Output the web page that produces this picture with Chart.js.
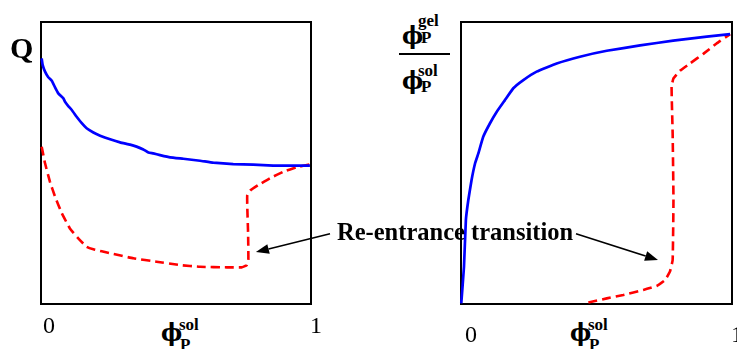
<!DOCTYPE html>
<html>
<head>
<meta charset="utf-8">
<script src="https://cdn.jsdelivr.net/npm/chart.js@4/dist/chart.umd.min.js"></script>
<style>
  html, body { margin: 0; padding: 0; background: #fff; overflow: hidden; }
  #stage { position: relative; width: 737px; height: 349px; font-family: "Liberation Serif", "Times New Roman", serif; color: #000; }
  #stage canvas { position: absolute; }
  .t { position: absolute; line-height: 1; white-space: nowrap; font-family: "Liberation Serif", "Times New Roman", serif; }
  .phi { font-size: 25px; font-weight: bold; font-family: "DejaVu Serif", "Liberation Serif", serif; transform: scaleX(0.9); transform-origin: left top; }
  .sm { font-size: 17px; font-weight: bold; }
  .tick { font-size: 24px; width: 20px; text-align: center; }
  #overlay { position: absolute; left: 0; top: 0; pointer-events: none; }
</style>
</head>
<body>
<div id="stage">
  <canvas id="qChart" width="290" height="302" style="left:31px;top:12px"></canvas>
  <canvas id="ratioChart" width="286" height="302" style="left:451px;top:12px"></canvas>

  <!-- left panel: Q versus phi_P^sol -->
  <div class="t" style="left:10px;top:33px;font-size:30px;font-weight:bold">Q</div>
  <div class="t phi" style="left:161px;top:320px">ϕ</div>
  <div class="t sm" style="left:179px;top:316px">sol</div>
  <div class="t sm" style="left:180px;top:336px">P</div>

  <!-- right panel: phi_P^gel / phi_P^sol versus phi_P^sol -->
  <div class="t phi" style="left:402px;top:23px">ϕ</div>
  <div class="t sm" style="left:418px;top:12px">gel</div>
  <div class="t sm" style="left:421px;top:29px">P</div>
  <div style="position:absolute;left:399px;top:53px;width:51px;height:2px;background:#000"></div>
  <div class="t phi" style="left:402px;top:68px">ϕ</div>
  <div class="t sm" style="left:418px;top:62px">sol</div>
  <div class="t sm" style="left:421px;top:78px">P</div>
  <div class="t phi" style="left:570px;top:320px">ϕ</div>
  <div class="t sm" style="left:588px;top:316px">sol</div>
  <div class="t sm" style="left:589px;top:336px">P</div>

  <div id="note" class="t" style="left:337px;top:220px;font-size:24.5px;font-weight:bold">Re-entrance transition</div>

  <svg id="overlay" width="737" height="349"></svg>
</div>

<script>
// Q against phi_P^sol: solid (blue) and dashed (red) branches
const qBlueX = [0.0025, 0.006, 0.015, 0.027, 0.040, 0.052, 0.064, 0.083, 0.089, 0.101, 0.114, 0.132, 0.151, 0.169, 0.194, 0.219, 0.256, 0.293, 0.330, 0.354, 0.379, 0.398, 0.416, 0.441, 0.478, 0.527, 0.589, 0.638, 0.712, 0.786, 0.860, 0.996];
const qBlueY = [0.871, 0.848, 0.824, 0.804, 0.792, 0.768, 0.747, 0.729, 0.717, 0.702, 0.688, 0.664, 0.641, 0.623, 0.608, 0.597, 0.584, 0.573, 0.565, 0.558, 0.548, 0.537, 0.534, 0.528, 0.520, 0.515, 0.508, 0.501, 0.496, 0.494, 0.491, 0.491];
const qRedX = [0.0025, 0.015, 0.033, 0.052, 0.077, 0.107, 0.138, 0.169, 0.194, 0.256, 0.342, 0.428, 0.515, 0.589, 0.688, 0.743, 0.762, 0.768, 0.767, 0.764, 0.764, 0.777, 0.805, 0.848, 0.898, 0.947, 0.996];
const qRedY = [0.558, 0.499, 0.434, 0.381, 0.322, 0.268, 0.233, 0.203, 0.194, 0.180, 0.162, 0.150, 0.138, 0.132, 0.130, 0.130, 0.138, 0.156, 0.251, 0.345, 0.387, 0.404, 0.422, 0.446, 0.469, 0.485, 0.495];

// phi_P^gel / phi_P^sol against phi_P^sol
const ratioBlueX = [0.001, 0.011, 0.018, 0.027, 0.039, 0.052, 0.064, 0.082, 0.107, 0.132, 0.162, 0.193, 0.230, 0.279, 0.353, 0.439, 0.538, 0.661, 0.783, 0.907, 0.993];
const ratioBlueY = [0.002, 0.132, 0.298, 0.369, 0.440, 0.499, 0.534, 0.593, 0.641, 0.682, 0.723, 0.765, 0.794, 0.824, 0.853, 0.877, 0.898, 0.917, 0.934, 0.948, 0.957];
const ratioRedX = [0.470, 0.538, 0.599, 0.673, 0.722, 0.753, 0.771, 0.781, 0.784, 0.781, 0.777, 0.784, 0.808, 0.845, 0.894, 0.943, 0.993];
const ratioRedY = [0.005, 0.020, 0.032, 0.050, 0.064, 0.085, 0.115, 0.156, 0.369, 0.605, 0.771, 0.800, 0.827, 0.853, 0.887, 0.924, 0.957];

// x-axis tick labels under each panel
const xTickValues = [0, 1];
const xTickLabels = ['0', '1'];

const BLUE = '#0000ff';
const RED = '#ff0000';

function pts(xs, ys) { return xs.map((x, i) => ({ x: x, y: ys[i] })); }

// black box around the plotting area
const framePlugin = {
  id: 'frame',
  beforeDatasetsDraw(chart) {
    const a = chart.chartArea, ctx = chart.ctx;
    ctx.save();
    ctx.strokeStyle = '#000';
    ctx.lineWidth = 2;
    ctx.strokeRect(a.left, a.top, a.right - a.left, a.bottom - a.top);
    ctx.restore();
  }
};

function makeChart(id, blue, red, padRight) {
  return new Chart(document.getElementById(id), {
    type: 'line',
    data: {
      datasets: [
        { data: blue, borderColor: BLUE, borderWidth: 2.7, pointRadius: 0, tension: 0.1, clip: false },
        { data: red, borderColor: RED, borderWidth: 2.6, borderDash: [9, 5], pointRadius: 0, tension: 0.1, clip: false }
      ]
    },
    options: {
      responsive: false,
      animation: false,
      events: [],
      layout: { padding: { left: 10, right: padRight, top: 10, bottom: 10 } },
      plugins: { legend: { display: false }, tooltip: { enabled: false } },
      scales: {
        x: { type: 'linear', min: 0, max: 1, display: false },
        y: { type: 'linear', min: 0, max: 1, display: false }
      }
    },
    plugins: [framePlugin]
  });
}

const qChart = makeChart('qChart', pts(qBlueX, qBlueY), pts(qRedX, qRedY), 10);
const ratioChart = makeChart('ratioChart', pts(ratioBlueX, ratioBlueY), pts(ratioRedX, ratioRedY), 5);

const stage = document.getElementById('stage');

// page position of a data point in a chart
function pagePoint(chart, x, y) {
  const c = chart.canvas;
  return {
    x: c.offsetLeft + chart.scales.x.getPixelForValue(x),
    y: c.offsetTop + chart.scales.y.getPixelForValue(y)
  };
}

// tick labels "0" and "1" below each panel
const tickShift = [[8, 5], [10, 5]];
const tickTop = [313, 322];
[qChart, ratioChart].forEach((chart, ci) => {
  xTickValues.forEach((v, i) => {
    const p = pagePoint(chart, v, 0);
    const d = document.createElement('div');
    d.className = 't tick';
    d.textContent = xTickLabels[i];
    d.style.left = (p.x + tickShift[ci][i] - 10) + 'px';
    d.style.top = tickTop[ci] + 'px';
    stage.appendChild(d);
  });
});

// arrows from the note to the re-entrance jump in each panel
const svgNS = 'http://www.w3.org/2000/svg';
const svg = document.getElementById('overlay');
function arrow(x1, y1, x2, y2) {
  const ang = Math.atan2(y2 - y1, x2 - x1);
  const len = 13, half = 5;
  const bx = x2 - len * Math.cos(ang), by = y2 - len * Math.sin(ang);
  const line = document.createElementNS(svgNS, 'line');
  line.setAttribute('x1', x1); line.setAttribute('y1', y1);
  line.setAttribute('x2', bx); line.setAttribute('y2', by);
  line.setAttribute('stroke', '#000'); line.setAttribute('stroke-width', '1.6');
  svg.appendChild(line);
  const px = -Math.sin(ang) * half, py = Math.cos(ang) * half;
  const head = document.createElementNS(svgNS, 'polygon');
  head.setAttribute('points', `${x2},${y2} ${bx + px},${by + py} ${bx - px},${by - py}`);
  head.setAttribute('fill', '#000');
  svg.appendChild(head);
}
const note = document.getElementById('note');
const nr = { left: note.offsetLeft, top: note.offsetTop, w: note.offsetWidth, h: note.offsetHeight };
const midY = nr.top + nr.h * 0.55;
const tipL = pagePoint(qChart, 0.796, 0.184);
const tipR = pagePoint(ratioChart, 0.727, 0.156);
arrow(nr.left - 7, midY, tipL.x, tipL.y);
arrow(nr.left + nr.w + 3, midY, tipR.x, tipR.y);
</script>
</body>
</html>
